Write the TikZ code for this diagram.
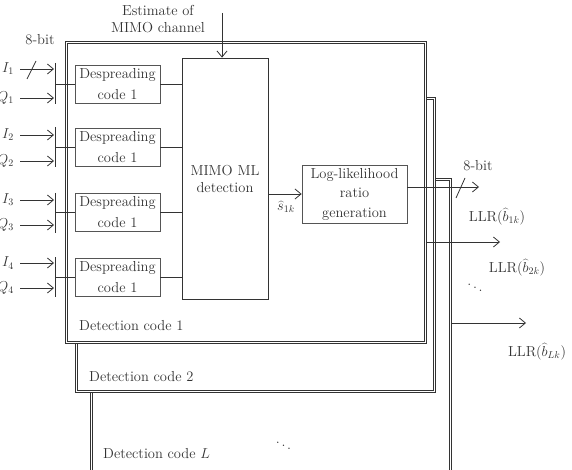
\documentclass[tikz,border=0pt]{standalone}
\usetikzlibrary{arrows.meta,calc}
\definecolor{ink}{HTML}{333333}
\definecolor{boxline}{HTML}{555555}
\begin{document}
\begin{tikzpicture}[x=1pt,y=-1pt,
  every node/.style={text=ink, font=\fontsize{14.5}{17}\selectfont},
  arr/.style={draw=ink, line width=0.8pt, -{Straight Barb[length=6pt,width=10pt,line width=0.8pt]}},
  conn/.style={draw=ink, line width=0.8pt},
  dsbox/.style={draw=boxline, line width=0.8pt, minimum width=85pt, minimum height=38pt, inner sep=0pt, align=center, font=\fontsize{14.5}{21}\selectfont},
  frame/.style={draw=ink, line width=0.8pt, double=white, double distance=1.2pt, fill=white, inner sep=0pt},
  barline/.style={draw=ink, line width=1pt},
  lbl/.style={inner sep=0pt}
]
\useasboundingbox (0,0) rectangle (572,470);
\clip (0,0) rectangle (572,470);

% stacked detection frames
\node[frame, minimum width=359pt, minimum height=320pt, anchor=north west] (detL) at (91,179) {};
\node[frame, minimum width=358pt, minimum height=293pt, anchor=north west] (det2) at (76,98) {};
\node[frame, minimum width=359pt, minimum height=300pt, anchor=north west] (det1) at (66,42) {};

\node[lbl, anchor=west] (l1) at (79,326) {Detection code 1};
\node[lbl, anchor=west] (l2) at (89,377) {Detection code 2};
\node[lbl, anchor=west] (lL) at (103,454) {Detection code $L$};
\node[lbl] (dotsB) at (283.5,443) {$\ddots$};

% despreading boxes
\node[dsbox] (ds1) at (117.5,84) {Despreading\\code 1};
\node[dsbox] (ds2) at (117.5,147) {Despreading\\code 1};
\node[dsbox] (ds3) at (117.5,212.5) {Despreading\\code 1};
\node[dsbox] (ds4) at (117.5,277) {Despreading\\code 1};

% MIMO ML detection
\node[draw=ink, line width=0.8pt, minimum width=86pt, minimum height=241pt, inner sep=0pt, align=center] (mimo) at (225,178.5) {MIMO ML\\detection};

% LLR generation
\node[draw=boxline, line width=0.8pt, minimum width=105pt, minimum height=58pt, inner sep=0pt, align=center, font=\fontsize{14.5}{19.5}\selectfont] (llr) at (354.5,194) {Log-likelihood\\ratio\\generation};

% estimate input
\node[lbl, align=center] (est) at (158,19) {Estimate of\\MIMO channel};
\coordinate (estA) at (222,13);
\draw[arr] (estA) -- (estA |- mimo.north);

% input bars
\coordinate (b1t) at (55,63);  \coordinate (b1b) at (55,104);
\coordinate (b2t) at (55,127); \coordinate (b2b) at (55,167);
\coordinate (b3t) at (55,193); \coordinate (b3b) at (55,233);
\coordinate (b4t) at (55,257); \coordinate (b4b) at (55,297);
\draw[barline] (b1t) -- (b1b);
\draw[barline] (b2t) -- (b2b);
\draw[barline] (b3t) -- (b3b);
\draw[barline] (b4t) -- (b4b);

% inputs
\coordinate (i1) at (20,69);  \coordinate (q1) at (20,98);
\coordinate (i2) at (20,135); \coordinate (q2) at (20,161);
\coordinate (i3) at (20,200); \coordinate (q3) at (20,225);
\coordinate (i4) at (20,263); \coordinate (q4) at (20,288);
\foreach \p in {i1,q1,i2,q2,i3,q3,i4,q4} {
  \draw[arr] (\p) -- ($(\p -| b1t)+(-1,0)$);
}
\node[lbl, anchor=east] (li1) at (14,69)  {$I_1$};
\node[lbl, anchor=east] (lq1) at (14,98)  {$Q_1$};
\node[lbl, anchor=east] (li2) at (14,135) {$I_2$};
\node[lbl, anchor=east] (lq2) at (14,161) {$Q_2$};
\node[lbl, anchor=east] (li3) at (14,200) {$I_3$};
\node[lbl, anchor=east] (lq3) at (14,225) {$Q_3$};
\node[lbl, anchor=east] (li4) at (14,263) {$I_4$};
\node[lbl, anchor=east] (lq4) at (14,288) {$Q_4$};

% 8-bit input
\node[lbl] (bitA) at (40,40) {8-bit};
\coordinate (sA1) at (27,79); \coordinate (sA2) at (36,61);
\draw[conn] (sA1) -- (sA2);

% bars to despreaders
\draw[conn] (b1t |- ds1.west) -- (ds1.west);
\draw[conn] (b2t |- ds2.west) -- (ds2.west);
\draw[conn] (b3t |- ds3.west) -- (ds3.west);
\draw[conn] (b4t |- ds4.west) -- (ds4.west);

% despreaders to MIMO
\draw[conn] (ds1.east) -- (ds1.east -| mimo.west);
\draw[conn] (ds2.east) -- (ds2.east -| mimo.west);
\draw[conn] (ds3.east) -- (ds3.east -| mimo.west);
\draw[conn] (ds4.east) -- (ds4.east -| mimo.west);

% MIMO to LLR
\draw[arr] (mimo.east |- llr.west) -- (llr.west);
\node[lbl] (shat) at (286,207) {$\widehat{s}_{1k}$};

% LLR output
\coordinate (outA) at (479,187);
\draw[arr] (llr.east |- outA) -- (outA);
\coordinate (sB1) at (456,198); \coordinate (sB2) at (465,178);
\draw[conn] (sB1) -- (sB2);
\node[lbl] (bitB) at (478,166) {8-bit};

% outputs of frames
\coordinate (out1) at (500,242);
\draw[arr] (out1 -| det1.east) -- (out1);
\coordinate (outL) at (526,323);
\draw[arr] (outL -| detL.east) -- (outL);

\node[lbl] (llr1) at (497,217) {LLR$(\widehat{b}_{1k})$};
\node[lbl] (llr2) at (517,268) {LLR$(\widehat{b}_{2k})$};
\node[lbl] (dotsR) at (475,285) {$\ddots$};
\node[lbl] (llrL) at (537,352) {LLR$(\widehat{b}_{Lk})$};
\end{tikzpicture}
\end{document}
